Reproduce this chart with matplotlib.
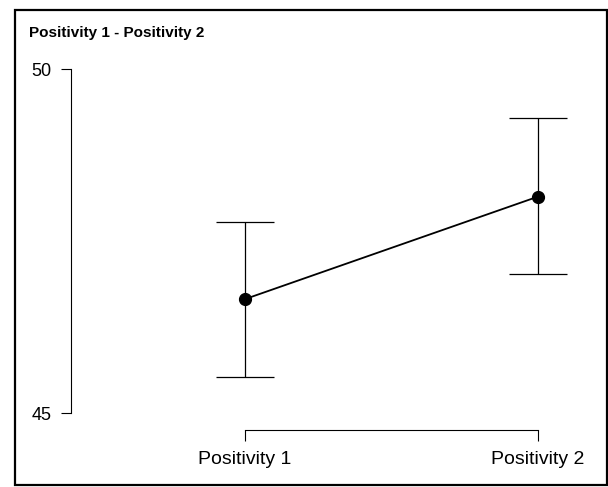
import matplotlib
matplotlib.use("Agg")
import matplotlib.pyplot as plt
from matplotlib.patches import Rectangle

plt.rcParams['font.family'] = ['Liberation Sans', 'DejaVu Sans']

# data
conditions = ["Positivity 1", "Positivity 2"]
means = [46.66, 48.15]
ci_low = [45.53, 47.03]
ci_high = [47.78, 49.29]
title = "Positivity 1 - Positivity 2"

W, H = 608, 487
fig = plt.figure(figsize=(W / 100, H / 100), dpi=100)

# axes placed in pixel terms
left_px, right_px = 70.7, 590
bottom_px, top_px = 430, 69.3
ax = fig.add_axes([left_px / W, 1 - bottom_px / H,
                   (right_px - left_px) / W, (bottom_px - top_px) / H])

x = list(range(len(conditions)))
yerr = [[m - lo for m, lo in zip(means, ci_low)],
        [hi - m for m, hi in zip(means, ci_high)]]
ax.errorbar(x, means, yerr=yerr, fmt='none', ecolor='black',
            elinewidth=0.9, capsize=21, capthick=0.9)
ax.plot(x, means, color='black', lw=1.3, marker='o', markersize=8.5, zorder=3)

ax.set_xlim(-0.595, 1.177)
ax.set_ylim(44.757, 50)

for s in ['top', 'right']:
    ax.spines[s].set_visible(False)
ax.spines['left'].set_bounds(45, 50)
ax.spines['bottom'].set_bounds(0, 1)
for s in ['left', 'bottom']:
    ax.spines[s].set_linewidth(0.8)

ax.set_yticks([45, 50])
ax.set_yticklabels(["45", "50"])
ax.set_xticks(x)
ax.set_xticklabels(conditions)
ax.tick_params(axis='y', length=7, width=0.8, pad=7, labelsize=13)
ax.tick_params(axis='x', length=8, width=0.8, pad=7, labelsize=14)
ax.patch.set_visible(False)

fig.text(29 / W, 1 - 33 / H, title, fontsize=11, fontweight='bold',
         ha='left', va='center')

# outer frame
fig.patches.append(Rectangle((15 / W, 2 / H), 591.5 / W, 475 / H,
                             transform=fig.transFigure, fill=False,
                             edgecolor='black', linewidth=1.6))

fig.savefig("out.png", dpi=100)
